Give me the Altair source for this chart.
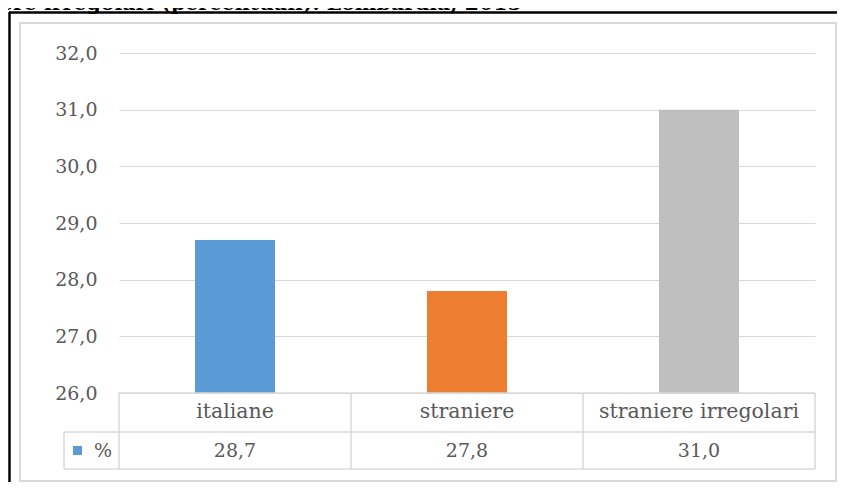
import altair as alt
import pandas as pd

categories = ["italiane", "straniere", "straniere irregolari"]
values = [28.7, 27.8, 31.0]
value_labels = ["28,7", "27,8", "31,0"]
colors = ["#5B9BD5", "#ED7D31", "#BFBFBF"]
y_ticks = [26, 27, 28, 29, 30, 31, 32]
series_name = "%"
title_text = "ere irregolari (percentuali). Lombardia, 2015"

df = pd.DataFrame({"cat": categories, "val": values, "lab": value_labels})
one = pd.DataFrame({"a": [0]})

FONT = "DejaVu Serif"
TXT = "#595959"
GRID = "#D9D9D9"
W, H = 696, 340

xenc = alt.X("cat:N", sort=categories, scale=alt.Scale(paddingInner=0, paddingOuter=0), axis=None)

bars = alt.Chart(df).mark_bar(width=alt.RelativeBandSize(0.345)).encode(
    x=xenc,
    y=alt.Y("val:Q", title=None,
            scale=alt.Scale(domain=[26, 32], zero=False, nice=False),
            axis=alt.Axis(values=y_ticks, grid=True, domain=False, ticks=False,
                          gridColor=GRID, gridWidth=1, labelFont=FONT, labelFontSize=19,
                          labelColor=TXT, labelPadding=22,
                          labelExpr="replace(format(datum.value, '.1f'), '.', ',')")),
    y2=alt.datum(26),
    color=alt.Color("cat:N", scale=alt.Scale(domain=categories, range=colors), legend=None),
)

headers = alt.Chart(df).mark_text(font=FONT, fontSize=20.5, color=TXT, baseline="middle").encode(
    x=xenc, y=alt.value(359), text="cat:N")
vals = alt.Chart(df).mark_text(font=FONT, fontSize=19, color=TXT, baseline="middle").encode(
    x=xenc, y=alt.value(398), text="lab:N")


def hline(x1, x2, y, color=GRID, w=1.5):
    return alt.Chart(one).mark_rule(color=color, strokeWidth=w).encode(
        x=alt.value(x1), x2=alt.value(x2), y=alt.value(y))


def vline(x, y1, y2, color=GRID, w=1.5):
    return alt.Chart(one).mark_rule(color=color, strokeWidth=w).encode(
        x=alt.value(x), y=alt.value(y1), y2=alt.value(y2))


table = [
    hline(0, W, 340),
    hline(-55, W, 379),
    hline(-55, W, 416),
    vline(-55, 379, 416),
    vline(0, 340, 416),
    vline(232, 340, 416),
    vline(464, 340, 416),
    vline(696, 340, 416),
]

legend_sq = alt.Chart(one).mark_rect(color=colors[0]).encode(
    x=alt.value(-46), x2=alt.value(-37), y=alt.value(393), y2=alt.value(402))
legend_txt = alt.Chart(one).mark_text(font=FONT, fontSize=19, color=TXT, baseline="middle").encode(
    x=alt.value(-16), y=alt.value(398), text=alt.value(series_name))

inner_frame = alt.Chart(one).mark_rect(fill=None, stroke=GRID, strokeWidth=2).encode(
    x=alt.value(-99), x2=alt.value(717), y=alt.value(-30), y2=alt.value(428))

black = [
    vline(-109.5, -41, 440, color="#000000", w=2.5),
    hline(-110, 730, -40.5, color="#000000", w=2.5),
]

title = alt.Chart(one).mark_text(font=FONT, fontSize=20.5, fontWeight="bold", color="#000000",
                                  align="left", baseline="alphabetic").encode(
    x=alt.value(-119), y=alt.value(-43), text=alt.value(title_text))

chart = alt.layer(inner_frame, *black, title, bars, *table, headers, vals, legend_sq, legend_txt).properties(
    width=W, height=H,
    background="white",
    autosize=alt.AutoSizeParams(type="none"),
    padding={"left": 111, "top": 45, "right": 22, "bottom": 89},
).configure_view(stroke=None)

chart.save("out.html", embed_options={"renderer": "svg", "actions": False})
